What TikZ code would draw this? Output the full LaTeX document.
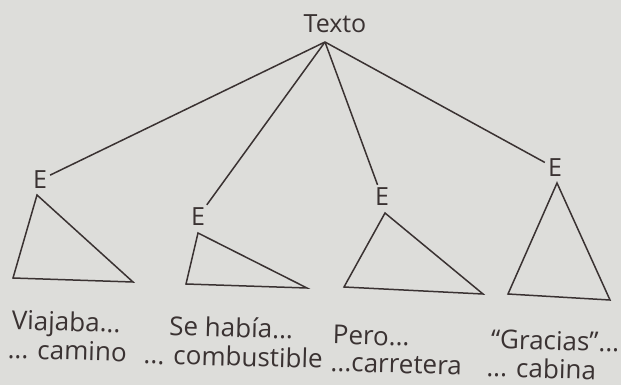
\documentclass[tikz,border=0pt]{standalone}
\usepackage{fontspec}
\setmainfont{Open Sans}
\usepackage{xcolor}
\usepackage{tikz}
\usetikzlibrary{positioning}
\definecolor{paper}{RGB}{221,221,218}
\definecolor{ink}{RGB}{58,50,50}

\begin{document}
\begin{tikzpicture}[x=1pt, y=-1pt,
    % Node styles
    root/.style={inner sep=0pt, font=\fontsize{25}{29}\selectfont, text=ink},
    sym/.style={inner sep=3pt, font=\fontsize{25}{29}\selectfont, text=ink},
    label/.style={inner sep=0pt, anchor=base, rotate=-1.5, font=\fontsize{26}{30}\selectfont, text=ink},
    % Edge styles
    edge/.style={draw=ink, line width=1.5pt},
    tri/.style={draw=ink, line width=1.5pt, line join=miter}
]

% Paper
\fill[paper] (0,0) rectangle (621,385);
\useasboundingbox (0,0) rectangle (621,385);

% Root
\node[root] (texto) at (335,24) {Texto};
\coordinate (top) at (325,42);

% Level 1 - E nodes
\node[sym] (e1) at (40,180) {E};
\node[sym] (e2) at (198,217) {E};
\node[sym] (e3) at (382,197) {E};
\node[sym] (e4) at (555,168) {E};

% Triangles
\draw[tri] (37,195) -- (13,278) -- (133,282) -- cycle;
\draw[tri] (198,233) -- (186,284) -- (307,288) -- cycle;
\draw[tri] (385,213) -- (344,287) -- (483,294) -- cycle;
\draw[tri] (557,183) -- (508,294) -- (610,300) -- cycle;

% Labels
\node[label] (v1) at (66,331) {Viajaba...};
\node[label] (v2) at (67,360) {... camino};
\node[label] (s1) at (231,337) {Se había...};
\node[label] (s2) at (233,366) {... combustible};
\node[label] (p1) at (371,345) {Pero...};
\node[label] (p2) at (396,373) {...carretera};
\node[label] (g1) at (555,350) {“Gracias”...};
\node[label] (g2) at (541,378) {... cabina};

% Draw all edges
\draw[edge] (top) -- (e1);
\draw[edge] (top) -- (e2);
\draw[edge] (top) -- (e3);
\draw[edge] (top) -- (e4);

\end{tikzpicture}
\end{document}
